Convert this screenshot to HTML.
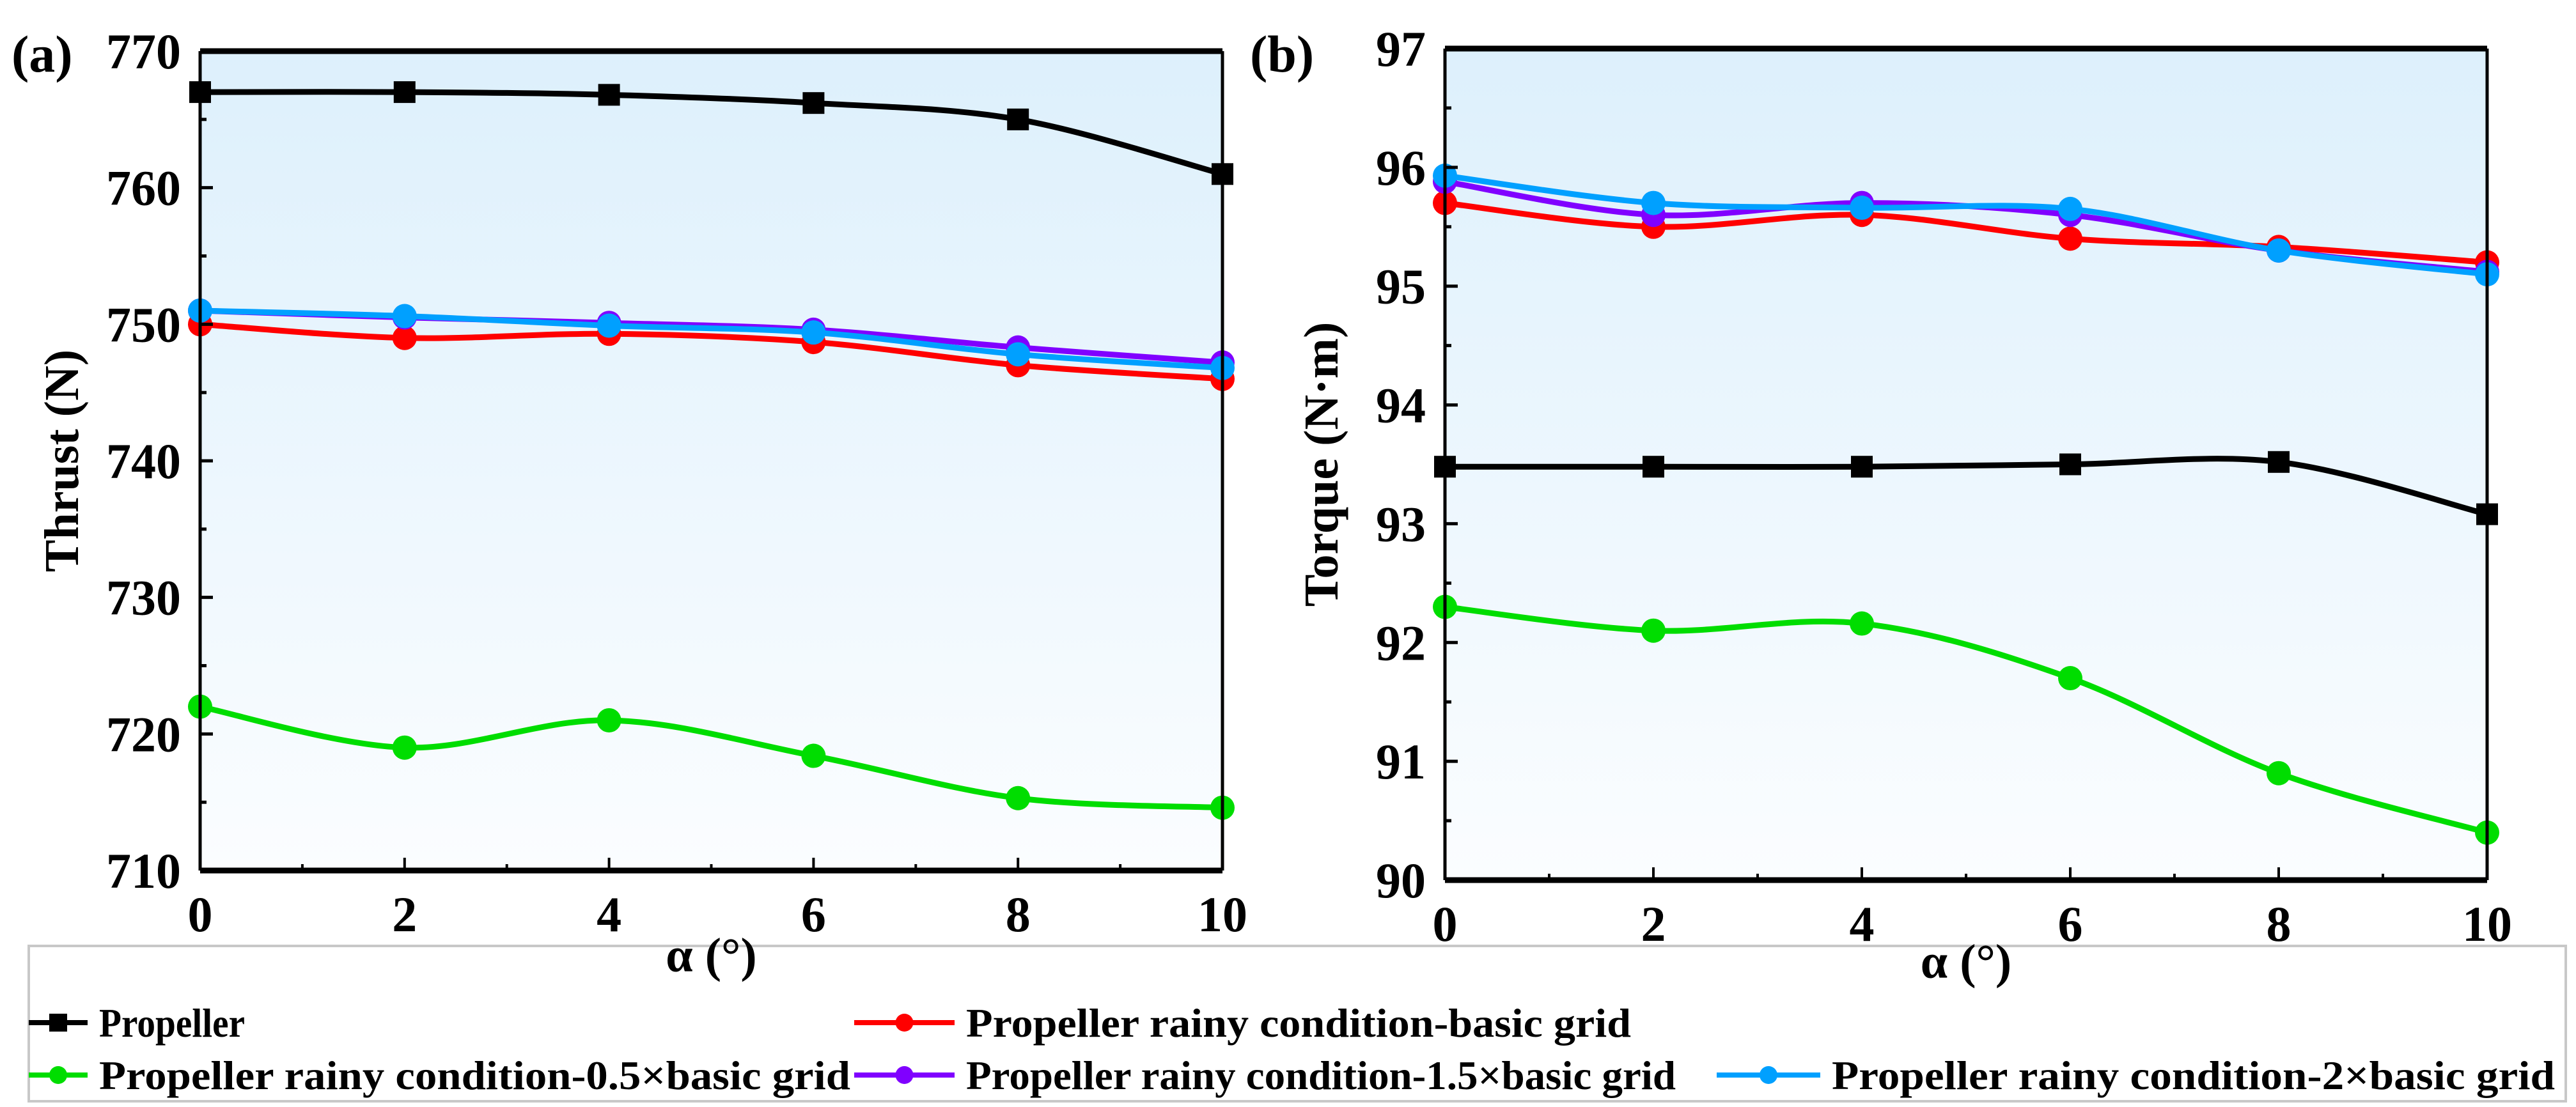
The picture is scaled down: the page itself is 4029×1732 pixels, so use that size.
<!DOCTYPE html>
<html><head><meta charset="utf-8">
<style>
html,body{margin:0;padding:0;background:#fff;}
svg{display:block;}
text{font-family:"Liberation Serif",serif;font-weight:bold;fill:#000;}
</style></head>
<body>
<svg id="fig" width="4029" height="1732" viewBox="0 0 4029 1732" xmlns="http://www.w3.org/2000/svg">
<defs>
<linearGradient id="bg" x1="0" y1="0" x2="0" y2="1">
<stop offset="0" stop-color="#ddf0fc"/><stop offset="1" stop-color="#fbfdff"/>
</linearGradient>
</defs>
<rect x="45" y="1480" width="3968" height="243" fill="#fff" stroke="#c8c8c8" stroke-width="4"/>
<g id="panelA"></g>
<g id="panelB"></g>
<g id="legend"></g>
</svg>
<script>
const xValues = [0, 2, 4, 6, 8, 10];
const seriesNames = ["Propeller","Propeller rainy condition-basic grid","Propeller rainy condition-0.5×basic grid","Propeller rainy condition-1.5×basic grid","Propeller rainy condition-2×basic grid"];
const seriesColors = ["#000000","#ff0000","#00dd00","#8000ff","#00a0ff"];
const thrustPropeller = [767, 767, 766.8, 766.2, 765, 761];
const thrustBasic = [750, 749, 749.3, 748.7, 747, 746];
const thrustHalf = [722, 719, 721, 718.4, 715.3, 714.6];
const thrustOneHalf = [751, 750.5, 750.1, 749.6, 748.3, 747.2];
const thrustDouble = [751, 750.6, 749.9, 749.4, 747.8, 746.8];
const torquePropeller = [93.48, 93.48, 93.48, 93.5, 93.52, 93.08];
const torqueBasic = [95.7, 95.5, 95.6, 95.4, 95.33, 95.2];
const torqueHalf = [92.3, 92.1, 92.16, 91.7, 90.9, 90.4];
const torqueOneHalf = [95.88, 95.6, 95.7, 95.6, 95.3, 95.12];
const torqueDouble = [95.93, 95.7, 95.66, 95.65, 95.3, 95.1];
const thrustTicks = [710, 720, 730, 740, 750, 760, 770];
const torqueTicks = [90, 91, 92, 93, 94, 95, 96, 97];
const xTicks = [0, 2, 4, 6, 8, 10];

const NS = "http://www.w3.org/2000/svg";
function mk(tag, attrs, parent){const e=document.createElementNS(NS,tag);for(const k in attrs)e.setAttribute(k,attrs[k]);parent.appendChild(e);return e;}

function spline(pts){
  let d = "M"+pts[0][0]+","+pts[0][1];
  for(let i=0;i<pts.length-1;i++){
    const p0=pts[Math.max(i-1,0)],p1=pts[i],p2=pts[i+1],p3=pts[Math.min(i+2,pts.length-1)];
    const c1=[p1[0]+(p2[0]-p0[0])/6,p1[1]+(p2[1]-p0[1])/6];
    const c2=[p2[0]-(p3[0]-p1[0])/6,p2[1]-(p3[1]-p1[1])/6];
    d+=" C"+c1[0]+","+c1[1]+" "+c2[0]+","+c2[1]+" "+p2[0]+","+p2[1];
  }
  return d;
}

function panel(g, cfg){
  const {x0,x1,y0,y1,ymin,ymax,yticks,series,letter,letterX,ytitle,ytitleX,xtitleY,minorStep} = cfg;
  const X = v => x0 + (v - 0)/(10 - 0)*(x1-x0);
  const Y = v => y1 - (v - ymin)/(ymax - ymin)*(y1-y0);
  const bg = mk("rect",{x:x0,y:y0,width:x1-x0,height:y1-y0,fill:"url(#bg)"},g);
  
  
  series.forEach((vals,si)=>{
    const pts = xValues.map((xv,i)=>[X(xv),Y(vals[i])]);
    const p = mk("path",{d:spline(pts),fill:"none",stroke:seriesColors[si],"stroke-width":9},g);
    
    
    pts.forEach(pt=>{
      let m;
      if(si===0){ m = mk("rect",{x:pt[0]-17,y:pt[1]-17,width:34,height:34,fill:"#000"},g); }
      else { m = mk("circle",{cx:pt[0],cy:pt[1],r:19,fill:seriesColors[si]},g); }
      
      
    });
  });
  mk("line",{x1:x0,y1:y0,x2:x1,y2:y0,stroke:"#000","stroke-width":9},g);
  mk("line",{x1:x0,y1:y1,x2:x1,y2:y1,stroke:"#000","stroke-width":9},g);
  mk("line",{x1:x0,y1:y0,x2:x0,y2:y1,stroke:"#000","stroke-width":5},g);
  mk("line",{x1:x1,y1:y0,x2:x1,y2:y1,stroke:"#000","stroke-width":5},g);
  xTicks.forEach(v=>{
    mk("line",{x1:X(v),y1:y1,x2:X(v),y2:y1-20,stroke:"#000","stroke-width":4},g);
    if(v<10) mk("line",{x1:X(v+1),y1:y1,x2:X(v+1),y2:y1-10,stroke:"#000","stroke-width":4},g);
    const t = mk("text",{x:X(v),y:y1+95,"font-size":78,"text-anchor":"middle"},g);
    t.textContent=v;
    
    
  });
  yticks.forEach((v,i)=>{
    mk("line",{x1:x0,y1:Y(v),x2:x0+20,y2:Y(v),stroke:"#000","stroke-width":5},g);
    if(i<yticks.length-1) mk("line",{x1:x0,y1:Y(v+minorStep),x2:x0+10,y2:Y(v+minorStep),stroke:"#000","stroke-width":5},g);
    const t = mk("text",{x:x0-30,y:Y(v)+27,"font-size":78,"text-anchor":"end"},g);
    t.textContent=v;
    
    
  });
  const L = mk("text",{x:letterX,y:112,"font-size":82},g);
  L.textContent=letter;
  
  
  const yt = mk("text",{x:0,y:0,"font-size":76,"text-anchor":"middle",transform:"translate("+ytitleX+","+((y0+y1)/2)+") rotate(-90)"},g);
  yt.textContent=ytitle;
  
  
  const xt = mk("text",{x:(x0+x1)/2,y:xtitleY,"font-size":76,"text-anchor":"middle"},g);
  xt.textContent="α (°)";
  
  
}

panel(document.getElementById("panelA"),{x0:313,x1:1912,y0:80,y1:1362,ymin:710,ymax:770,yticks:thrustTicks,minorStep:5,
  series:[thrustPropeller,thrustBasic,thrustHalf,thrustOneHalf,thrustDouble],letter:"(a)",letterX:18,ytitle:"Thrust (N)",ytitleX:122,xtitleY:1520});
panel(document.getElementById("panelB"),{x0:2260,x1:3890,y0:76,y1:1377,ymin:90,ymax:97,yticks:torqueTicks,minorStep:0.5,
  series:[torquePropeller,torqueBasic,torqueHalf,torqueOneHalf,torqueDouble],letter:"(b)",letterX:1955,ytitle:"Torque (N·m)",ytitleX:2092,xtitleY:1530});

const legPos = [[45,1600,155,228],[1336,1600,1511,1040],[45,1682,155,1175],[1336,1682,1511,1110],[2685,1682,2865,1131]];
const lg = document.getElementById("legend");
legPos.forEach((p,i)=>{
  const g = mk("g",{},lg);
  
  
  const ls = p[0], le = p[2]-18, mid=(ls+le)/2;
  mk("line",{x1:ls,y1:p[1],x2:le,y2:p[1],stroke:seriesColors[i],"stroke-width":8},g);
  if(i===0) mk("rect",{x:mid-14,y:p[1]-14,width:28,height:28,fill:"#000"},g);
  else mk("circle",{cx:mid,cy:p[1],r:14,fill:seriesColors[i]},g);
  const t = mk("text",{x:p[2],y:p[1]+22,"font-size":64,textLength:p[3],lengthAdjust:"spacingAndGlyphs"},g);
  t.textContent=seriesNames[i];
});
</script>
</body></html>
